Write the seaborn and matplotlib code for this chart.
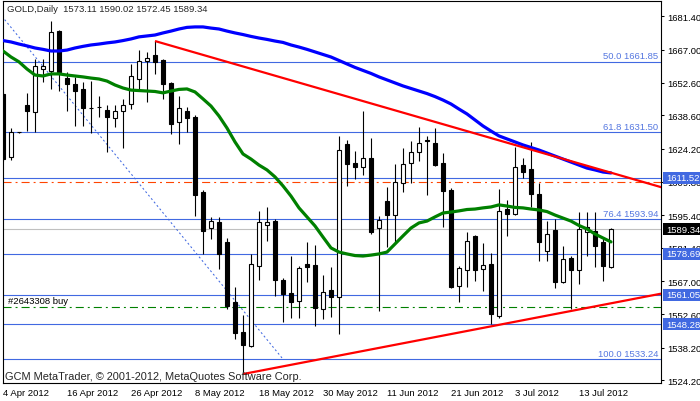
import matplotlib
matplotlib.use("Agg")
import numpy as np
import pandas as pd
import matplotlib.pyplot as plt
import matplotlib.transforms as mtransforms
from matplotlib.patches import Rectangle
import seaborn as sns

# ---- data (GOLD, daily bars) ----
dates = pd.bdate_range("2012-04-04", "2012-07-19")

opens = [1647.8, 1620.6, 1631.3, 1643.1, 1640.0, 1658.8, 1657.8, 1675.0, 1654.7, 1652.1,
         1650.0, 1641.9, 1642.4, 1640.9, 1637.4, 1640.5, 1643.5, 1654.3, 1662.1, 1664.7,
         1662.5, 1652.6, 1635.7, 1640.5, 1637.9, 1605.5, 1590.0, 1592.5, 1583.7, 1557.9,
         1544.9, 1539.0, 1573.5, 1591.2, 1593.0, 1567.5, 1561.9, 1558.4, 1574.4, 1574.0,
         1555.0, 1563.2, 1560.2, 1626.2, 1618.0, 1616.3, 1620.2, 1590.0, 1601.6, 1595.5,
         1609.3, 1618.0, 1622.7, 1628.0, 1626.6, 1618.0, 1606.4, 1564.9, 1571.8, 1586.5,
         1572.2, 1574.4, 1551.9, 1598.1, 1596.0, 1617.2, 1615.5, 1604.6, 1580.0, 1589.1,
         1566.7, 1577.0, 1571.8, 1588.2, 1588.6, 1583.9, 1573.11]
highs = [1648.5, 1633.1, 1631.6, 1648.2, 1662.9, 1662.9, 1679.4, 1675.5, 1657.3, 1655.2,
         1653.0, 1653.4, 1647.0, 1643.1, 1643.1, 1645.6, 1660.8, 1666.8, 1666.0, 1670.7,
         1662.9, 1653.0, 1647.0, 1642.2, 1638.7, 1606.4, 1594.7, 1594.7, 1585.6, 1564.3,
         1552.4, 1578.7, 1597.3, 1599.0, 1593.9, 1568.4, 1577.8, 1573.5, 1583.9, 1582.6,
         1569.7, 1573.1, 1629.7, 1628.0, 1623.1, 1640.5, 1628.8, 1595.1, 1607.6, 1617.6,
         1624.5, 1627.5, 1633.6, 1629.7, 1633.1, 1622.3, 1607.2, 1573.5, 1588.2, 1586.9,
         1583.5, 1579.1, 1606.8, 1602.1, 1624.9, 1620.2, 1627.1, 1609.4, 1593.0, 1593.9,
         1582.2, 1577.8, 1596.8, 1596.8, 1596.8, 1586.1, 1590.02]
lows = [1619.0, 1619.3, 1631.0, 1631.8, 1631.4, 1653.0, 1650.0, 1649.1, 1640.5, 1634.0,
        1634.0, 1631.0, 1637.9, 1622.7, 1633.6, 1624.5, 1641.3, 1650.0, 1644.4, 1656.5,
        1645.7, 1630.5, 1626.2, 1631.4, 1595.2, 1578.7, 1585.2, 1572.2, 1555.0, 1541.9,
        1527.7, 1538.5, 1567.5, 1584.3, 1560.6, 1549.4, 1551.1, 1551.1, 1566.6, 1547.6,
        1550.6, 1551.5, 1544.2, 1608.1, 1611.1, 1612.8, 1587.5, 1554.2, 1581.8, 1583.9,
        1605.5, 1609.3, 1618.9, 1604.2, 1616.7, 1590.4, 1564.1, 1558.0, 1564.5, 1567.1,
        1562.8, 1548.5, 1551.1, 1586.6, 1595.5, 1611.5, 1599.0, 1575.6, 1575.6, 1564.1,
        1566.2, 1555.0, 1565.8, 1577.8, 1573.1, 1567.1, 1572.45]
closes = [1619.7, 1631.4, 1631.2, 1640.5, 1659.9, 1659.9, 1674.6, 1657.3, 1652.1, 1649.1,
          1641.8, 1641.6, 1642.0, 1637.9, 1640.5, 1643.1, 1655.6, 1662.1, 1663.4, 1661.7,
          1652.1, 1634.8, 1641.8, 1637.4, 1604.2, 1588.6, 1593.0, 1578.7, 1556.1, 1544.5,
          1539.3, 1574.4, 1592.5, 1592.5, 1567.5, 1561.5, 1558.0, 1572.7, 1573.1, 1555.4,
          1562.3, 1560.2, 1623.7, 1617.6, 1616.3, 1620.2, 1588.2, 1593.4, 1595.5, 1609.8,
          1617.6, 1622.7, 1626.6, 1627.5, 1617.2, 1605.9, 1564.5, 1572.7, 1584.3, 1571.8,
          1573.9, 1552.8, 1597.3, 1596.0, 1616.3, 1614.1, 1604.6, 1583.9, 1587.3, 1566.7,
          1576.5, 1571.8, 1589.5, 1590.4, 1582.2, 1573.5, 1589.34]

ma_slow = [1670.9, 1670.3, 1669.4, 1668.6, 1667.7, 1667.1, 1666.4, 1666.4, 1666.8, 1667.7,
           1668.4, 1669.0, 1669.4, 1669.9, 1670.3, 1670.9, 1671.6, 1672.5, 1672.9, 1673.3,
           1674.2, 1675.0, 1675.9, 1676.6, 1676.8, 1676.8, 1676.3, 1675.9, 1675.0, 1674.2,
           1673.5, 1672.7, 1672.0, 1671.4, 1670.7, 1670.1, 1669.0, 1668.1, 1667.1, 1666.0,
           1664.9, 1663.8, 1662.3, 1660.8, 1659.3, 1658.0, 1656.7, 1655.2, 1653.9, 1652.6,
           1651.3, 1650.2, 1649.1, 1648.0, 1646.7, 1645.2, 1643.5, 1641.3, 1639.2, 1636.6,
           1634.0, 1631.8, 1629.7, 1628.4, 1627.1, 1625.8, 1624.7, 1623.6, 1622.3, 1621.0,
           1619.7, 1618.4, 1617.1, 1615.8, 1615.0, 1614.1, 1613.7]
ma_fast = [1666.4, 1663.8, 1661.7, 1658.6, 1656.0, 1655.6, 1656.5, 1656.5, 1656.0, 1655.6,
           1655.2, 1654.7, 1654.3, 1653.4, 1651.7, 1650.4, 1649.5, 1649.3, 1649.1, 1648.9,
           1648.3, 1649.1, 1649.8, 1650.0, 1648.7, 1645.7, 1642.6, 1638.3, 1633.1, 1627.1,
           1621.9, 1619.7, 1617.1, 1615.0, 1612.0, 1608.1, 1603.7, 1598.6, 1594.7, 1590.8,
           1586.0, 1581.3, 1579.5, 1578.7, 1578.0, 1577.8, 1578.2, 1578.7, 1579.5, 1583.0,
           1586.5, 1589.9, 1592.1, 1592.9, 1594.7, 1596.4, 1596.8, 1597.3, 1597.9, 1598.1,
           1598.6, 1599.0, 1599.9, 1599.4, 1598.8, 1598.6, 1598.1, 1597.7, 1597.0, 1595.5,
           1594.2, 1592.9, 1591.0, 1589.5, 1587.3, 1585.6, 1583.9]

# trend line anchors (bar index, price)
trend_hi_x = [19, 71]
trend_hi_y = [1670.7, 1618.8]
trend_lo_x = [30, 61]
trend_lo_y = [1526.8, 1547.4]

# fibonacci anchors and levels
fib_x = [-26, 35]
fib_y = [1790.46, 1533.24]
fib_levels = [50.0, 61.8, 76.4, 100.0]

h_lines = [1611.52, 1578.69, 1561.05, 1548.28]
bid = 1589.34
order_price = 1555.8
order_label = "#2643308 buy"
tp_price = 1609.7

y_ticks = [1681.40, 1667.00, 1652.60, 1638.60, 1624.20, 1609.80, 1595.40,
           1581.40, 1567.00, 1552.60, 1538.20, 1524.20]

# ---- styling ----
sns.set_style("white")
plt.rcParams["font.family"] = ["Liberation Sans", "DejaVu Sans"]
plt.rcParams["lines.scale_dashes"] = False

W, H = 700, 402
LINE_BLUE = "#4169E1"
FS = 6.8

df = pd.DataFrame({"date": dates, "open": opens, "high": highs, "low": lows,
                   "close": closes, "ma_slow": ma_slow, "ma_fast": ma_fast})
df["bar"] = np.arange(len(df))

fig = plt.figure(figsize=(W / 100, H / 100), dpi=100)
ax = fig.add_axes([2.5 / W, 1 - 384 / H, 658 / W, 382 / H])
ax.set_facecolor("white")

x_lo, x_hi = -0.0625, 82.19
y_lo, y_hi = 1522.93, 1688.0
px_per_unit = 382 / (y_hi - y_lo)

# horizontal levels
fib_span = fib_y[0] - fib_y[1]
fib_prices = [fib_y[1] + (1 - lv / 100.0) * fib_span for lv in fib_levels]
for p in h_lines + fib_prices:
    ax.axhline(p, color=LINE_BLUE, lw=0.8, zorder=1)
ax.axhline(bid, color="#C0C0C0", lw=0.8, zorder=1)
ax.axhline(order_price, color="#008000", lw=0.8, zorder=1,
           linestyle=(0, (5.8, 2.9, 1.4, 2.9)))
ax.axhline(tp_price, color="#FF4500", lw=0.8, zorder=1,
           linestyle=(0, (5.8, 2.9, 1.4, 2.9)))

# fib dotted line
ax.plot(fib_x, fib_y, color=LINE_BLUE, lw=0.75, linestyle=(0, (1.4, 1.8)), zorder=2)

# candles
ax.vlines(df["bar"], df["low"], df["high"], color="black", lw=0.8, zorder=3)
up = df["close"] >= df["open"]
body_lo = np.minimum(df["open"], df["close"])
body_h = np.abs(df["close"] - df["open"])
ax.bar(df["bar"], body_h, bottom=body_lo, width=0.55,
       color=np.where(up, "white", "black"), edgecolor="black", lw=0.8, zorder=4)

# moving averages
sns.lineplot(data=df, x="bar", y="ma_slow", color="#0000FF", lw=2.3, ax=ax, zorder=5)
sns.lineplot(data=df, x="bar", y="ma_fast", color="#008000", lw=2.3, ax=ax, zorder=5)

# trend lines (rays to the right edge)
for xs, ys in [(trend_hi_x, trend_hi_y), (trend_lo_x, trend_lo_y)]:
    slope = (ys[1] - ys[0]) / (xs[1] - xs[0])
    ax.plot([xs[0], x_hi + 1], [ys[0], ys[0] + slope * (x_hi + 1 - xs[0])],
            color="#FF0000", lw=1.6, zorder=6, solid_capstyle="butt")

# fib labels
trans_ay = mtransforms.blended_transform_factory(ax.transAxes, ax.transData)
for lv, p in zip(fib_levels, fib_prices):
    ax.text(0.9965, p + 0.5, f"{lv:.1f} {p:.2f}", transform=trans_ay,
            ha="right", va="bottom", color="#5577E0", fontsize=FS, zorder=7)

ax.text(0.009, order_price + 1.0, order_label, transform=trans_ay,
        ha="left", va="bottom", color="black", fontsize=FS, zorder=7)

ax.set_xlim(x_lo, x_hi)
ax.set_ylim(y_lo, y_hi)
ax.set_xlabel("")
ax.set_ylabel("")

# axes / ticks
ax.yaxis.tick_right()
ax.set_yticks(y_ticks)
ax.set_yticklabels([f"{t:.2f}" for t in y_ticks])
tick_bars = df["bar"][::8]
ax.set_xticks(tick_bars)
ax.set_xticklabels([f"{d.day} {d.strftime('%b %Y')}" for d in df["date"][::8]],
                   ha="left")
ax.tick_params(axis="both", direction="out", length=2.4, width=0.75,
               color="black", labelsize=FS, labelcolor="black")
ax.tick_params(axis="y", pad=2.2)
ax.tick_params(axis="x", pad=1.2)
for s in ax.spines.values():
    s.set_color("black")
    s.set_linewidth(0.8)
    s.set_visible(True)

# price boxes on the right scale, drawn inside the axes so they cover tick labels
trans_fy = mtransforms.blended_transform_factory(fig.transFigure, ax.transData)
boxes = [(h, LINE_BLUE) for h in h_lines] + [(bid, "black")]
half = 6.0 / px_per_unit
for p, colr in boxes:
    rect = Rectangle((663 / W, p - half), 37 / W, 2 * half, transform=trans_fy,
                     facecolor=colr, edgecolor="none", zorder=10, clip_on=False)
    ax.add_artist(rect)
    ax.text(666 / W, p, f"{p:.2f}", transform=trans_fy, color="white",
            fontsize=FS, va="center", ha="left", zorder=11, clip_on=False)

# header / footer text
fig.text(7 / W, 1 - 10 / H, "GOLD,Daily  1573.11 1590.02 1572.45 1589.34",
         fontsize=FS, va="center", ha="left")
fig.text(5 / W, 1 - 377 / H, "GCM MetaTrader, \u00a9 2001-2012, MetaQuotes Software Corp.",
         fontsize=7.9, va="center", ha="left")

fig.savefig("out.png", dpi=100, facecolor="white")
